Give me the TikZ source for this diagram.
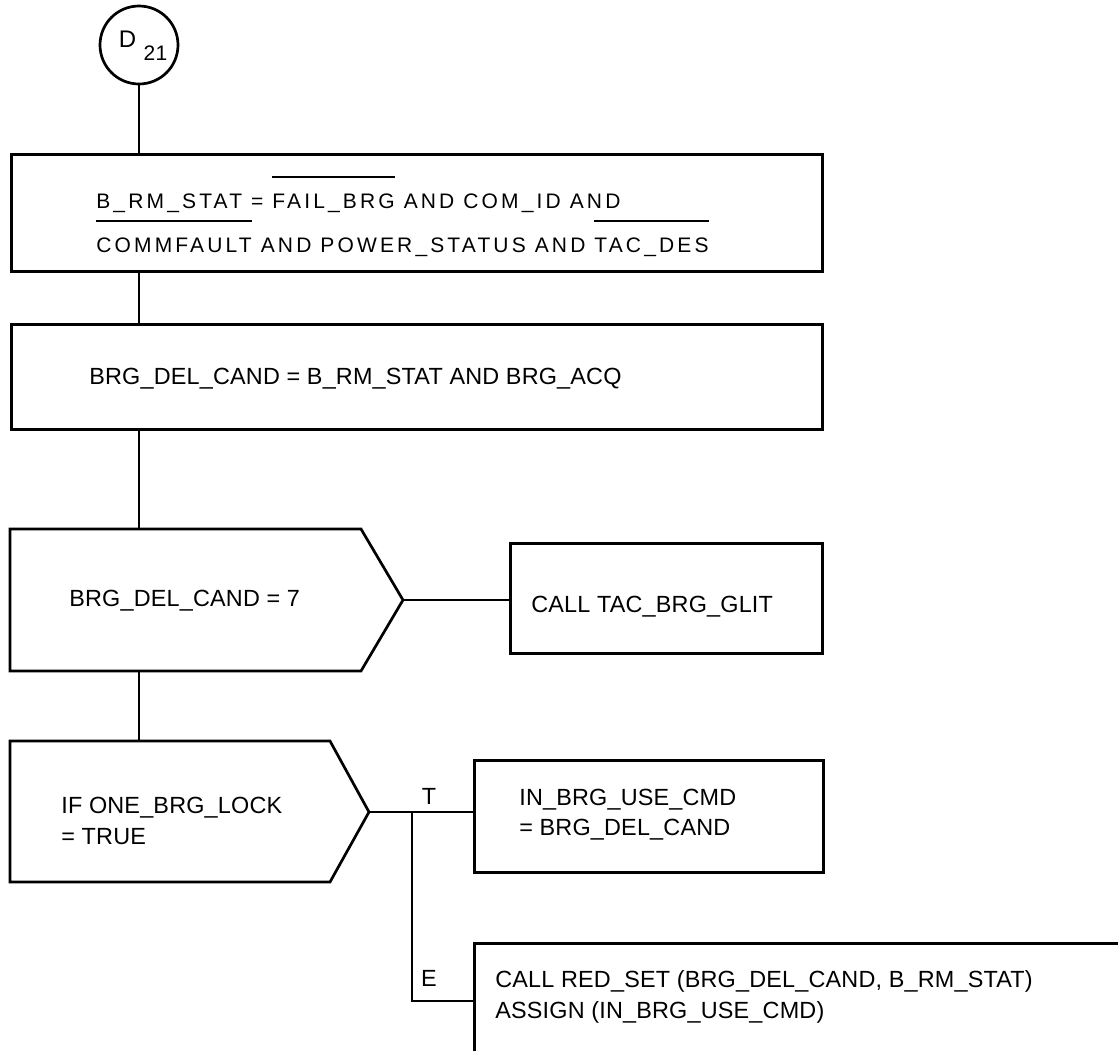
\documentclass[tikz,border=0pt]{standalone}
\usepackage{fontspec}
\setmainfont{Liberation Sans}[LetterSpace=0.8]
\newfontfamily\widefont{Liberation Sans}[LetterSpace=15]
\usetikzlibrary{calc}

% bar over a signal name
\newcommand{\ovl}[1]{\setbox0\hbox{#1}\rlap{\rule[14.8pt]{\wd0}{1pt}}\box0\relax}

\begin{document}
\begin{tikzpicture}[x=0.5pt, y=-0.5pt, line width=1.35pt,
  box/.style={draw, rectangle, anchor=north west, inner sep=0pt},
  txt/.style={anchor=base west, inner sep=0pt, align=left, font=\fontsize{11.7pt}{15.5pt}\selectfont}]
\useasboundingbox (0,0) rectangle (1118,1050);
\clip (0,0) rectangle (1118,1050);

%entry connector
\node[draw, circle, minimum size=39pt, inner sep=0pt] (d21) at (139,45) {};
\node[anchor=base, inner sep=0pt, font=\fontsize{12pt}{14pt}\selectfont] (dlet) at (127.5,47) {D};
\node[anchor=base, inner sep=0pt, font=\fontsize{10.5pt}{14pt}\selectfont] (dnum) at (155.5,60) {21};

%assignments
\node[box, minimum width=405.5pt, minimum height=58.5pt] (brm) at (10,153) {};
\node[txt, font=\fontsize{10.5pt}{22pt}\selectfont\widefont] (brmtxt) at (95,252)
  {B\_RM\_STAT = \ovl{FAIL\_BRG} AND COM\_ID AND\\\ovl{COMMFAULT} AND POWER\_STATUS AND \ovl{TAC\_DES}};
\node[box, minimum width=405.5pt, minimum height=52.5pt] (acq) at (10,323) {};
\node[txt] (acqtxt) at (88,384) {BRG\_DEL\_CAND = B\_RM\_STAT AND BRG\_ACQ};

%decisions
\draw (10,529) coordinate (p1nw) -- (361,529) -- (403,600) coordinate (p1tip) -- (361,671) -- (10,671) coordinate (p1sw) -- cycle;
\node[txt] (p1txt) at (68,606) {BRG\_DEL\_CAND = 7};
\draw (10,741) coordinate (p2nw) -- (330,741) -- (369,812) coordinate (p2tip) -- (330,882) -- (10,882) -- cycle;
\node[txt] (p2txt) at (60,844) {IF ONE\_BRG\_LOCK\\= TRUE};

%actions
\node[box, minimum width=156pt, minimum height=55pt] (glit) at (509,542) {};
\node[txt] (glittxt) at (530,612) {CALL TAC\_BRG\_GLIT};
\node[box, minimum width=174.5pt, minimum height=56pt] (tset) at (473,759) {};
\node[txt, font=\fontsize{11.7pt}{15pt}\selectfont] (tsettxt) at (518,835) {IN\_BRG\_USE\_CMD\\= BRG\_DEL\_CAND};
\node[box, minimum width=400pt, minimum height=80pt] (red) at (473,942) {};
\node[txt] (redtxt) at (494,1018) {CALL RED\_SET (BRG\_DEL\_CAND, B\_RM\_STAT)\\ASSIGN (IN\_BRG\_USE\_CMD)};

%flow lines
\draw (d21.south) -- (d21.south |- brm.north);
\draw (d21.south |- brm.south) -- (d21.south |- acq.north);
\draw (d21.south |- acq.south) -- (d21.south |- p1nw);
\draw (d21.south |- p1sw) -- (d21.south |- p2nw);
\draw (p1tip) -- (p1tip -| glit.west);
\draw (p2tip) -- (p2tip -| tset.west);
\coordinate (jn) at (412,812);
\coordinate (ejn) at (412,1001);
\draw (jn) -- (ejn) -- (ejn -| red.west);
\node[anchor=base, inner sep=0pt, font=\fontsize{11.7pt}{14pt}\selectfont] (tlab) at (429,804) {T};
\node[anchor=base, inner sep=0pt, font=\fontsize{11.7pt}{14pt}\selectfont] (elab) at (429,986) {E};

\end{tikzpicture}
\end{document}
